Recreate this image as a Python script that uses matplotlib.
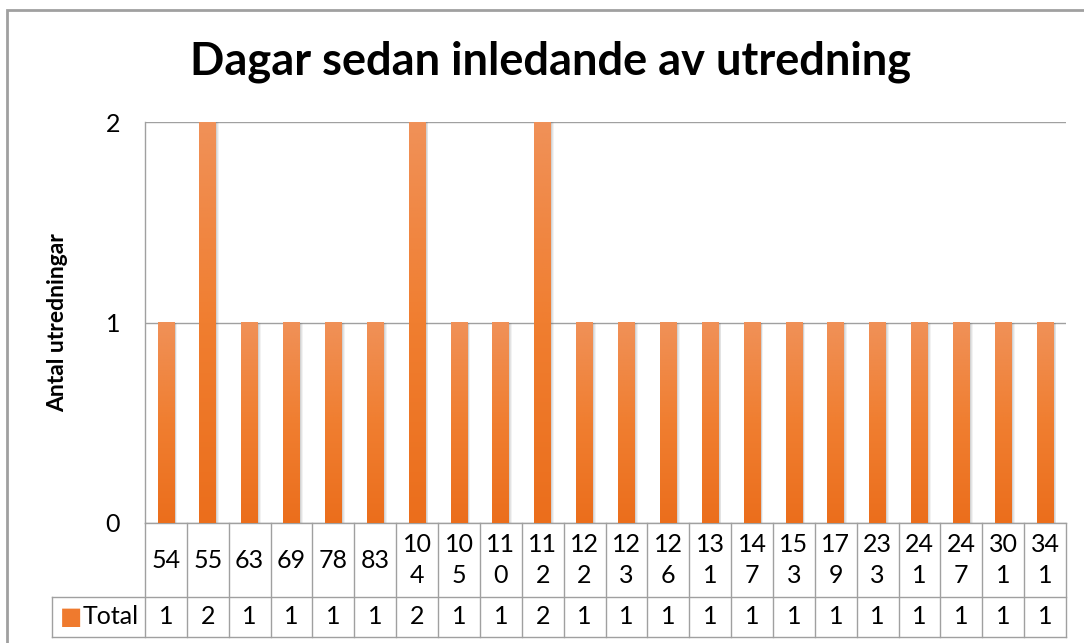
import matplotlib.pyplot as plt
import numpy as np
from matplotlib.patches import Rectangle
from matplotlib.transforms import blended_transform_factory
from matplotlib.colors import LinearSegmentedColormap

# data
days = ["54", "55", "63", "69", "78", "83", "104", "105", "110", "112", "122",
        "123", "126", "131", "147", "153", "179", "233", "241", "247", "301", "341"]
counts = [1, 2, 1, 1, 1, 1, 2, 1, 1, 2, 1, 1, 1, 1, 1, 1, 1, 1, 1, 1, 1, 1]
series_name = "Total"

plt.rcParams['font.family'] = ['Lato', 'DejaVu Sans']
grey = '#A0A0A0'
fs = 18

fig = plt.figure(figsize=(10.84, 6.43), dpi=100)
W, H = 1084, 643

def fx(px):
    return px / W

def fy(py):
    return 1 - py / H

# chart area border
fig.patches.append(Rectangle((fx(7), fy(700)), fx(1090), fy(10) - fy(700),
                             transform=fig.transFigure, fill=False,
                             edgecolor=grey, linewidth=2))

ax = fig.add_axes([fx(145), fy(523), fx(1066) - fx(145), fy(122) - fy(523)])

x = np.arange(len(days))
width = 0.4

# soft shadow behind bars
for k, a in [(0.07, 0.08), (0.05, 0.10), (0.03, 0.13)]:
    ax.bar(x + k, counts, width=width, color='#606060', alpha=a,
           linewidth=0, zorder=2)

bars = ax.bar(x, counts, width=width, color='none', linewidth=0, zorder=3)
grad = np.linspace(0, 1, 256).reshape(-1, 1)
cmap = LinearSegmentedColormap.from_list('og', ['#EB6E1C', '#F07E30', '#F09158'])
for b in bars:
    x0, y0 = b.get_x(), b.get_y()
    ax.imshow(grad, extent=[x0, x0 + b.get_width(), y0, y0 + b.get_height()],
              origin='lower', cmap=cmap, aspect='auto', zorder=3)

ax.set_xlim(-0.5, len(days) - 0.5)
ax.set_ylim(0, 2)
ax.set_yticks([0, 1, 2])
ax.set_xticks([])
ax.tick_params(axis='y', length=0, pad=18, labelsize=fs)
ax.yaxis.grid(True, color=grey, linewidth=1)
ax.set_axisbelow(True)
for s in ['top', 'right']:
    ax.spines[s].set_visible(False)
for s in ['left', 'bottom']:
    ax.spines[s].set_color(grey)
    ax.spines[s].set_linewidth(1)

# data table under the axis
trans = blended_transform_factory(ax.transData, ax.transAxes)
ah = 401.0
row1 = -(597 - 523) / ah
row2 = -(637 - 523) / ah
left_cell = (52 - 145) / 921.0
for i in range(len(days) + 1):
    ax.plot([i - 0.5, i - 0.5], [0, row2], transform=trans, color=grey,
            linewidth=1, clip_on=False)
ax.plot([left_cell, 1], [row1, row1], transform=ax.transAxes, color=grey,
        linewidth=1, clip_on=False)
ax.plot([left_cell, 1], [row2, row2], transform=ax.transAxes, color=grey,
        linewidth=1, clip_on=False)
ax.plot([left_cell, left_cell], [row1, row2], transform=ax.transAxes,
        color=grey, linewidth=1, clip_on=False)

for i, d in enumerate(days):
    label = d if len(d) < 3 else d[:2] + "\n" + d[2:]
    ax.text(i, row1 / 2, label, transform=trans, ha='center', va='center',
            fontsize=fs, linespacing=1.45)
    ax.text(i, (row1 + row2) / 2, str(counts[i]), transform=trans,
            ha='center', va='center', fontsize=fs)

ax.text(left_cell + 8 / 921.0, (row1 + row2) / 2, "\u25A0", transform=ax.transAxes,
        ha='left', va='center', fontsize=17, color='#EF7A2E',
        family=['DejaVu Sans'])
ax.text(left_cell + 31 / 921.0, (row1 + row2) / 2, series_name,
        transform=ax.transAxes, ha='left', va='center', fontsize=fs)

fig.text(fx(551), fy(62), "Dagar sedan inledande av utredning",
         ha='center', va='center', fontsize=32.5, fontweight='bold')
fig.text(fx(58), fy(323), "Antal utredningar", ha='center', va='center',
         rotation=90, fontsize=16.5, fontweight='bold')

fig.savefig('out.png', dpi=100, facecolor='white')
